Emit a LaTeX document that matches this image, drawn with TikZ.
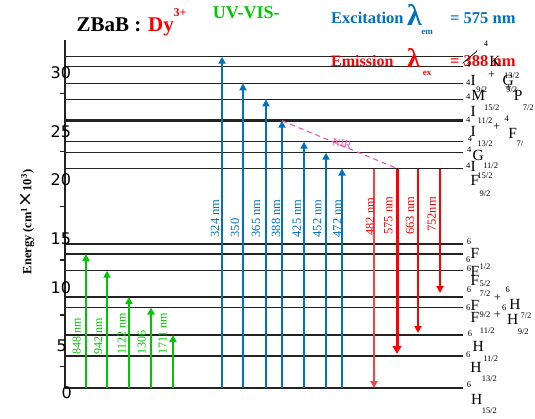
\documentclass[tikz,border=0pt]{standalone}
\usepackage{fontspec}
\usepackage{graphicx}
\setmainfont{Liberation Serif}
\newfontfamily\dvs{DejaVu Sans}
\usetikzlibrary{arrows.meta}
\definecolor{exblue}{RGB}{0,112,192}
\definecolor{nirgreen}{RGB}{0,200,0}
\definecolor{nirpink}{RGB}{245,80,170}
\definecolor{lvgray}{RGB}{35,35,35}
\begin{document}
\begin{tikzpicture}[x=1pt,y=-1pt,
 lvl/.style={draw=lvgray,line width=1.2pt},
 tip/.style={-{Triangle[length=7pt,width=7pt]}},
 barr/.style={tip,draw=exblue,fill=exblue,line width=2pt},
 garr/.style={tip,draw=nirgreen,line width=2pt},
 rarr/.style={tip,draw=red,line width=2pt},
 rlab/.style={rotate=90,anchor=west,inner sep=0pt,font=\fontsize{12.5}{14}\selectfont},
 bigl/.style={inner sep=0pt,font=\fontsize{15.5}{16}\selectfont},
 sml/.style={inner sep=0pt,font=\fontsize{8.5}{9}\selectfont},
 plusl/.style={inner sep=0pt,font=\fontsize{12.5}{13}\selectfont},
 tickl/.style={inner sep=0pt,font=\dvs\fontsize{16}{17}\selectfont},
 hdr/.style={anchor=base west,inner sep=0pt},
]
\useasboundingbox (0,0) rectangle (535,418);

% energy levels
\foreach \y [count=\k] in {56.7,66.7,83.3,99.3,120.7,141.7,152.7,168.5,244,254,270.7,297,307.5,335,356,388}{
  \coordinate (L\k) at (65,\y);
  \coordinate (R\k) at (463,\y);
}
\foreach \k in {1,2,3,4,6,7,8,9,10,11,12,14,15}{\draw[lvl] (L\k) -- (R\k);}
\draw[lvl,line width=2.6pt] (L5) -- (R5);
\draw[lvl,line width=1.9pt] (L13) -- (R13);
\draw[lvl,line width=2.6pt] (L16) -- (R16);

% axis
\coordinate (axtop) at (65,40);
\draw[line width=1.6pt,lvgray] (axtop) -- (L16);
\foreach \y [count=\k] in {93.3,151.7,206.7,260,315,366.7}{
  \coordinate (mt\k) at (65,\y);
  \draw[line width=1.2pt,lvgray] (mt\k) -- ++(-5.5,0);
}
\node[tickl] (t30) at (60.8,72.7) {30};
\node[tickl] (t25) at (60.8,131.7) {25};
\node[tickl] (t20) at (60.8,180) {20};
\node[tickl] (t15) at (60.8,239) {15};
\node[tickl] (t10) at (60.8,287.7) {10};
\node[tickl] (t5) at (61.7,346) {5};
\node[tickl] (t0) at (66.7,393) {0};
\node[rotate=90,inner sep=0pt,font=\bfseries\fontsize{12.5}{14}\selectfont] (ylab) at (27,222)
  {Energy (cm\textsuperscript{1}{\mdseries\dvs\fontsize{19}{19}\selectfont ×}10\textsuperscript{3})};

% green NIR absorption arrows
\foreach \x/\k [count=\i] in {86/10,107/11,129/12,151/13,173/14}{
  \coordinate (g\i) at (\x,388);
  \draw[garr] (g\i) -- (g\i |- L\k);
}
\foreach \x/\t [count=\i] in {76.7/848 nm,98.3/942 nm,121.7/1122 nm,141.7/1306,162.7/1711 nm}{
  \node[rlab,text=nirgreen,font=\fontsize{12}{13}\selectfont] (gl\i) at (\x,355) {\t};
}

% blue excitation arrows
\foreach \x/\k [count=\i] in {222/1,243/3,266/4,282/5,304/6,326/7,342/8}{
  \coordinate (b\i) at (\x,388);
  \draw[barr] (b\i) -- (b\i |- L\k);
}
\foreach \x/\t [count=\i] in {215/324 nm,235/350,256/365 nm,276/388 nm,296.7/425 nm,317.3/452 nm,337.3/472 nm}{
  \node[rlab,text=exblue] (bl\i) at (\x,237.5) {\t};
}

% red emission arrows
\coordinate (rs1) at (374,168.5);
\coordinate (rs2) at (397,168.5);
\coordinate (rs3) at (418,168.5);
\coordinate (rs4) at (440,168.5);
\coordinate (re2) at (397,354);
\coordinate (re3) at (418,333);
\coordinate (re4) at (440,293);
\draw[rarr,draw=red!75,line width=1.7pt] (rs1) -- (rs1 |- L16);
\draw[-{Triangle[length=8pt,width=8.5pt]},draw=red,line width=3pt] (rs2) -- (re2);
\draw[rarr] (rs3) -- (re3);
\draw[rarr] (rs4) -- (re4);
\node[rlab,text=red] (rl1) at (370,236) {482 nm};
\node[rlab,text=red] (rl2) at (388.3,235) {575 nm};
\node[rlab,text=red] (rl3) at (410,235) {663 nm};
\node[rlab,text=red] (rl4) at (431.7,232) {752nm};

% NIR relaxation
\coordinate (n0) at (b4 |- L5);
\draw[nirpink,line width=1.1pt,dash pattern=on 5pt off 4pt] (n0) -- (rs2);
\node[inner sep=0pt,text=nirpink,rotate=-12,font=\fontsize{11}{12}\selectfont] (nir) at (342,143.5) {NIR};

% headers
\node[hdr,font=\bfseries\fontsize{21}{23}\selectfont] (ttl) at (76.5,31.5) {ZBaB :};
\node[hdr,text=red,font=\bfseries\fontsize{21}{23}\selectfont] (dy) at (148,31.5) {Dy};
\node[inner sep=0pt,text=red,font=\bfseries\fontsize{12}{13}\selectfont] (dyc) at (180,13) {3+};
\node[hdr,text=nirgreen,font=\bfseries\fontsize{18}{20}\selectfont] (uv) at (212.7,18.8) {UV-VIS-};
\node[hdr,text=exblue,font=\bfseries\fontsize{16.5}{18}\selectfont] (exc) at (331,23) {Excitation};
\node[hdr,text=exblue,font=\bfseries\fontsize{30}{32}\selectfont] (lam1) at (407,25) {λ};
\node[inner sep=0pt,text=exblue,font=\bfseries\fontsize{9}{10}\selectfont] (em) at (427,32) {em};
\node[hdr,text=exblue,font=\bfseries\fontsize{16.5}{18}\selectfont] (exv) at (450,23) {= 575 nm};
\node[hdr,text=red,font=\bfseries\fontsize{16}{18}\selectfont] (emi) at (331,66) {Emission};
\node[hdr,text=red,font=\bfseries\fontsize{27}{29}\selectfont] (lam2) at (407,67) {λ};
\node[inner sep=0pt,text=red,font=\bfseries\fontsize{9}{10}\selectfont] (ex) at (427,73) {ex};
\node[hdr,text=red,font=\bfseries\fontsize{16.5}{18}\selectfont] (emv) at (450,66) {= 388 nm};

% level labels
\foreach \t/\x/\y [count=\i] in {4/486/44, 4/468.3/65, {13/2}/511.7/76, 4/468.3/82.7, {9/2}/481.7/90,
  {9/2}/511.7/89.3, 4/468.3/96.7, {15/2}/491.7/107.3, {7/2}/528.3/107.3, 4/468.3/120, {11/2}/485/120.7,
  4/506.7/118.3, 4/470/138.3, {13/2}/485/144, {7/}/520/144, 4/469.3/149.3, 4/468.3/166, {11/2}/490.7/166,
  {15/2}/485/176, {9/2}/485/193.3, 6/469/241.7, 6/468.3/259.3, {1/2}/485/266.7, 6/469/268.3, {5/2}/485/283.3,
  6/469/289.3, {7/2}/485/294, 6/507.7/289.3, 6/468.3/307.3, 6/504.3/307.3, {9/2}/485/315, {7/2}/526/316,
  6/470/333.3, {11/2}/487.3/331, {9/2}/523.3/331.7, {11/2}/490.7/358.3, 6/468.3/355, {13/2}/489.3/378.3,
  6/469/385, {15/2}/489.3/410.7}{
  \node[sml] (sm\i) at (\x,\y) {\t};
}
\foreach \t/\x/\y [count=\i] in {K/495/61.7, G/508.3/80, I/473.3/80, M/478.3/95, P/518.3/95, I/473.3/111,
  I/473.3/131.7, F/512.7/133.3, G/478.3/155, I/473.3/166, F/475/180, F/475/253.3, F/475/271.7, F/475/280,
  F/475/305, H/515/304, F/475/317.3, H/512.7/319.3, H/478.3/346, H/476/367.3, H/476.7/399.3}{
  \node[bigl] (B\i) at (\x,\y) {\t};
}
\foreach \x/\y [count=\i] in {491.7/75, 508.3/88.3, 496.7/126.7, 497.3/298.3, 497.3/315}{
  \node[plusl] (p\i) at (\x,\y) {+};
}
\coordinate (sl1) at (462.7,63.3);
\coordinate (sl2) at (477.3,50.7);
\draw[line width=0.7pt] (sl1) -- (sl2);
\end{tikzpicture}
\end{document}
